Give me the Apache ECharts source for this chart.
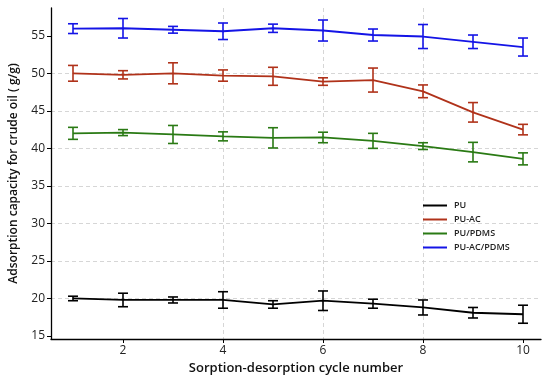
<!DOCTYPE html>
<html><head><meta charset="utf-8">
<script src="https://cdn.jsdelivr.net/npm/echarts@6/dist/echarts.min.js"></script>
<style>html,body{margin:0;padding:0;background:#fff}#c{width:550px;height:384px}</style>
</head><body><div id="c"></div>
<script>
const cycles = [1,2,3,4,5,6,7,8,9,10];
const seriesNames = ['PU','PU-AC','PU/PDMS','PU-AC/PDMS'];
const puMean = [20.0,19.8,19.8,19.8,19.2,19.7,19.3,18.8,18.1,17.9];
const puErr  = [0.3,0.9,0.4,1.1,0.5,1.3,0.6,1.0,0.7,1.2];
const puacMean = [50.0,49.8,50.0,49.7,49.6,48.9,49.1,47.6,44.8,42.5];
const puacErr  = [1.05,0.55,1.4,0.75,1.2,0.5,1.6,0.85,1.3,0.7];
const pdmsMean = [42.0,42.1,41.85,41.6,41.4,41.45,41.0,40.3,39.5,38.6];
const pdmsErr  = [0.8,0.4,1.2,0.6,1.35,0.7,1.0,0.45,1.3,0.8];
const acpdmsMean = [55.95,56.0,55.8,55.6,56.0,55.7,55.1,54.9,54.2,53.5];
const acpdmsErr  = [0.65,1.3,0.45,1.1,0.55,1.4,0.8,1.6,0.9,1.2];
const colors = ['#000000','#b0321a','#2a7a14','#1414e6'];
const xTicks = [2,4,6,8,10];
const yTicks = [15,20,25,30,35,40,45,50,55];

const means = [puMean, puacMean, pdmsMean, acpdmsMean];
const errs = [puErr, puacErr, pdmsErr, acpdmsErr];
const FONT = '"Open Sans", "DejaVu Sans", sans-serif';

const series = [];
means.forEach((m, i) => {
  series.push({
    name: seriesNames[i], type: 'line', symbol: 'none',
    data: cycles.map((c, k) => [c, m[k]]),
    lineStyle: {color: colors[i], width: 1.8}, itemStyle: {color: colors[i]},
    z: 3
  });
});
means.forEach((m, i) => {
  const col = colors[i];
  series.push({
    name: seriesNames[i] + ' err', type: 'custom',
    data: cycles.map((c, k) => [c, m[k] - errs[i][k], m[k] + errs[i][k]]),
    renderItem: function (params, api) {
      const x = api.value(0), lo = api.value(1), hi = api.value(2);
      const p1 = api.coord([x, hi]), p2 = api.coord([x, lo]);
      const w = 5;
      const st = {stroke: col, lineWidth: 1.6};
      return {type: 'group', children: [
        {type: 'line', shape: {x1: p1[0], y1: p1[1], x2: p2[0], y2: p2[1]}, style: st},
        {type: 'line', shape: {x1: p1[0] - w, y1: p1[1], x2: p1[0] + w, y2: p1[1]}, style: st},
        {type: 'line', shape: {x1: p2[0] - w, y1: p2[1], x2: p2[0] + w, y2: p2[1]}, style: st}
      ]};
    },
    z: 4
  });
});

const chart = echarts.init(document.getElementById('c'), null, {renderer: 'canvas'});
chart.setOption({
  animation: false,
  backgroundColor: '#fff',
  grid: {left: 51, right: 9, top: 8, bottom: 45},
  legend: {
    data: seriesNames, orient: 'vertical', left: 418, top: 196,
    itemWidth: 24, itemHeight: 2, itemGap: 5, icon: 'rect',
    textStyle: {fontFamily: FONT, fontSize: 9, fontWeight: 600, color: '#222', padding: [0, 0, 0, 2]}
  },
  xAxis: {
    type: 'value', min: 0.56, max: 10.36, minInterval: 2, maxInterval: 2,
    name: 'Sorption-desorption cycle number', nameLocation: 'middle', nameGap: 22,
    nameTextStyle: {fontFamily: FONT, fontSize: 13, fontWeight: 600, color: '#111', verticalAlign: 'top'},
    axisLine: {show: true, lineStyle: {color: '#000', width: 1.3}},
    axisTick: {show: true, inside: false, length: 4, lineStyle: {color: '#000'}, customValues: xTicks},
    axisLabel: {fontFamily: FONT, fontSize: 12, color: '#222', margin: 6, customValues: xTicks,
      formatter: v => xTicks.includes(Math.round(v * 1000) / 1000) ? String(v) : ''},
    splitLine: {show: true, showMinLine: false, showMaxLine: false,
      lineStyle: {color: '#cccccc', type: [4, 3], width: 0.8}}
  },
  yAxis: {
    type: 'value', min: 14.6, max: 58.7, minInterval: 5, maxInterval: 5,
    name: 'Adsorption capacity for crude oil ( g/g)', nameLocation: 'middle', nameGap: 31,
    nameTextStyle: {fontFamily: FONT, fontSize: 12, fontWeight: 600, color: '#111'},
    axisLine: {show: true, lineStyle: {color: '#000', width: 1.3}},
    axisTick: {show: true, inside: false, length: 4, lineStyle: {color: '#000'}, customValues: yTicks},
    axisLabel: {fontFamily: FONT, fontSize: 12, color: '#222', margin: 6, customValues: yTicks,
      formatter: v => yTicks.includes(Math.round(v * 1000) / 1000) ? String(v) : ''},
    splitLine: {show: true, showMinLine: false, showMaxLine: false,
      lineStyle: {color: '#cccccc', type: [4, 3], width: 0.8}}
  },
  series: series
});
</script></body></html>
